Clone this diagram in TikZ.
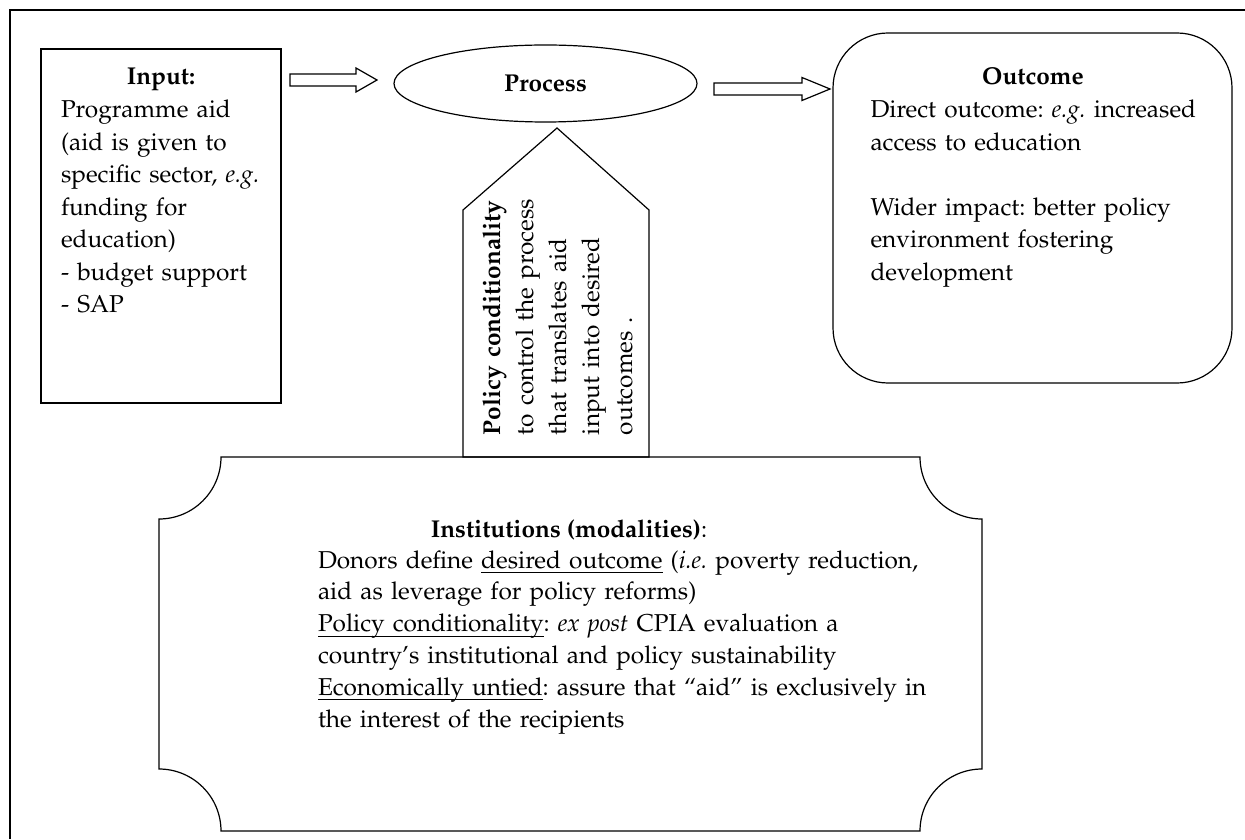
\documentclass[tikz,border=0pt]{standalone}
\usepackage[T1]{fontenc}
\usepackage{mathpazo}
\usetikzlibrary{calc,shapes.geometric}
\newlength\myulwidth
\newcommand{\myul}[1]{\leavevmode\settowidth{\myulwidth}{#1}\rlap{\rule[-2.5pt]{\myulwidth}{0.55pt}}#1}
\tikzset{
  shapeline/.style={draw=black, line width=0.6pt},
  framelinestyle/.style={draw=black, line width=0.7pt},
  txt/.style={inner sep=0pt, outer sep=0pt, align=left, font=\fontsize{12.2}{16.25}\selectfont\frenchspacing},
  ttl/.style={inner sep=0pt, outer sep=0pt, font=\fontsize{12.2}{16.25}\selectfont},
}
\newcommand{\blkarrow}[5]{%
  \draw[shapeline, fill=white] ($(#1)+(0,-#4)$) -- ($(#2)+(-#3,-#4)$) -- ($(#2)+(-#3,-#5)$) -- (#2)
    -- ($(#2)+(-#3,#5)$) -- ($(#2)+(-#3,#4)$) -- ($(#1)+(0,#4)$) -- cycle;}
\begin{document}
\begin{tikzpicture}[x=0.5pt,y=-0.5pt]
\useasboundingbox (0,0) rectangle (1245,839);
% outer frame (only top and left edges visible)
\draw[framelinestyle] (10,839) -- (10,10) -- (1245,10);

% Input box
\node[shapeline, minimum width=120pt, minimum height=177pt, inner sep=0pt] (input) at (161,226) {};
\node[ttl, anchor=base] (intitle) at (161,85) {\textbf{Input:}};
\node[txt, anchor=base west, text width=112pt] (intext) at (61,118)
  {Programme aid\\(aid is given to\\specific sector, \textit{e.g.}\\funding for\\education)\\- budget support\\- SAP};

% Process ellipse
\node[shapeline, ellipse, minimum width=151.5pt, minimum height=38.5pt, inner sep=0pt,
      font=\fontsize{12.2}{16.25}\selectfont\bfseries] (process) at (545.5,83.5) {Process};

% Outcome rounded box
\node[shapeline, rounded corners=27.5pt, minimum width=199.5pt, minimum height=175pt, inner sep=0pt] (outcome) at (1032.5,208) {};
\node[ttl, anchor=base] (outtitle) at (1033,85) {\textbf{Outcome}};
\node[txt, anchor=base west, text width=178pt] (outtext) at (870.5,118)
  {Direct outcome: \textit{e.g.} increased\\access to education\\[16.25pt]Wider impact: better policy\\environment fostering\\development};

% block arrows
\coordinate (a1s) at (290,80);
\coordinate (a1e) at (377,80);
\coordinate (a2s) at (714,89);
\coordinate (a2e) at (830,89);
\blkarrow{a1s}{a1e}{21}{6}{12}
\blkarrow{a2s}{a2e}{28}{6}{11.5}

% Policy conditionality pentagon arrow
\coordinate (polapex) at (557,128);
\draw[shapeline, fill=white] (463,457) -- (463,210) -- (polapex) -- (649,210) -- (649,457) -- cycle;
\node[txt, rotate=90, anchor=base west, text width=125pt, font=\fontsize{12.2}{16.5}\selectfont] (poltext) at (500,435)
  {\textbf{Policy conditionality}\\to control the process\\that translates aid\\input into desired\\outcomes .};

% Institutions plaque
\draw[shapeline] (221,457) arc[start angle=0, end angle=-90, radius=31pt]
  -- (159,769) arc[start angle=90, end angle=0, radius=31pt]
  -- (920,831) arc[start angle=180, end angle=90, radius=31pt]
  -- (982,519) arc[start angle=-90, end angle=-180, radius=31pt]
  -- cycle;
\node[ttl, anchor=base] (insttitle) at (569,537) {\textbf{Institutions (modalities)}:};
\node[txt, anchor=base west, text width=325pt, font=\fontsize{12.2}{15.9}\selectfont\frenchspacing] (insttext) at (318,568)
  {Donors define \myul{desired outcome} (\textit{i.e.} poverty reduction,\\
   aid as leverage for policy reforms)\\
   \myul{Policy conditionality}: \textit{ex post} CPIA evaluation a\\
   country's institutional and policy sustainability\\
   \myul{Economically untied}: assure that ``aid'' is exclusively in\\
   the interest of the recipients};
\end{tikzpicture}
\end{document}
